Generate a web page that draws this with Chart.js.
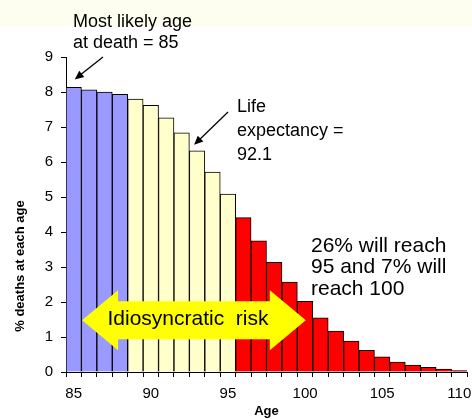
<!DOCTYPE html>
<html>
<head>
<meta charset="utf-8">
<script src="https://cdn.jsdelivr.net/npm/chart.js@4.4.1/dist/chart.umd.min.js"></script>
<style>
  html, body { margin: 0; padding: 0; background: #fff; }
  #wrap { width: 472px; height: 419px; position: relative; }
</style>
</head>
<body>
<div id="wrap"><canvas id="deathChart" width="472" height="419"></canvas></div>
<script>
// ages 85..110 and % of deaths at each age
const ages = [85, 86, 87, 88, 89, 90, 91, 92, 93, 94, 95, 96, 97,
              98, 99, 100, 101, 102, 103, 104, 105, 106, 107, 108, 109, 110];
const deaths = [8.13, 8.06, 8.00, 7.93, 7.80, 7.62, 7.26, 6.83, 6.32, 5.71, 5.08, 4.41, 3.75,
                3.13, 2.57, 2.02, 1.55, 1.17, 0.88, 0.62, 0.43, 0.28, 0.20, 0.13, 0.08, 0.04];
const ageTicks = [85, 90, 95, 100, 105, 110];

const FONT = "'Liberation Sans', Arial, sans-serif";

function barColor(age) {
    if (age <= 88) return '#9999FF';
    if (age <= 95) return '#FFFFCC';
    return '#FF0000';
}

function arrowHead(ctx, x0, y0, x1, y1, len, half) {
    const a = Math.atan2(y1 - y0, x1 - x0);
    ctx.beginPath();
    ctx.moveTo(x1, y1);
    ctx.lineTo(x1 - len * Math.cos(a) + half * Math.sin(a), y1 - len * Math.sin(a) - half * Math.cos(a));
    ctx.lineTo(x1 - len * Math.cos(a) - half * Math.sin(a), y1 - len * Math.sin(a) + half * Math.cos(a));
    ctx.closePath();
    ctx.fill();
}

function blackArrow(ctx, x0, y0, x1, y1) {
    ctx.save();
    ctx.strokeStyle = '#000';
    ctx.fillStyle = '#000';
    ctx.lineWidth = 1.3;
    const a = Math.atan2(y1 - y0, x1 - x0);
    ctx.beginPath();
    ctx.moveTo(x0, y0);
    ctx.lineTo(x1 - 7 * Math.cos(a), y1 - 7 * Math.sin(a));
    ctx.stroke();
    arrowHead(ctx, x0, y0, x1, y1, 9, 4);
    ctx.restore();
}

const background = {
    id: 'background',
    beforeDraw(chart) {
        const ctx = chart.ctx;
        ctx.save();
        ctx.fillStyle = '#fff';
        ctx.fillRect(0, 0, chart.width, chart.height);
        ctx.fillStyle = '#FEFEF0';
        ctx.fillRect(0, 0, chart.width, 27);
        ctx.restore();
    }
};

const notes = {
    id: 'notes',
    afterDraw(chart) {
        const ctx = chart.ctx;
        const x = chart.scales.x, y = chart.scales.y;
        const px = age => x.getPixelForValue(age - 85);

        // yellow double arrow
        const xl = px(85.54), xr = px(100.05), yc = y.getPixelForValue(1.48);
        const head = 36, hh = 30, sh = 19;
        ctx.save();
        ctx.fillStyle = '#FFFF00';
        ctx.beginPath();
        ctx.moveTo(xl, yc);
        ctx.lineTo(xl + head, yc - hh);
        ctx.lineTo(xl + head, yc - sh);
        ctx.lineTo(xr - head, yc - sh);
        ctx.lineTo(xr - head, yc - hh);
        ctx.lineTo(xr, yc);
        ctx.lineTo(xr - head, yc + hh);
        ctx.lineTo(xr - head, yc + sh);
        ctx.lineTo(xl + head, yc + sh);
        ctx.lineTo(xl + head, yc + hh);
        ctx.closePath();
        ctx.fill();

        ctx.fillStyle = '#000';
        ctx.textBaseline = 'alphabetic';
        ctx.textAlign = 'center';
        ctx.font = '21px ' + FONT;
        ctx.fillText('Idiosyncratic  risk', 188, 325);

        ctx.textAlign = 'left';
        ctx.font = '18px ' + FONT;
        ctx.fillText('Most likely age', 73, 27);
        ctx.fillText('at death = 85', 73, 48);
        ctx.fillText('Life', 237, 112);
        ctx.fillText('expectancy =', 237, 136);
        ctx.fillText('92.1', 237, 160);
        ctx.font = '21px ' + FONT;
        ctx.fillText('26% will reach', 311, 252);
        ctx.fillText('95 and 7% will', 311, 273);
        ctx.fillText('reach 100', 311, 295);

        // pointer arrows
        blackArrow(ctx, 103, 57, px(85) + 1, y.getPixelForValue(deaths[0]) - 8);
        blackArrow(ctx, 228, 112, px(93) - 3, y.getPixelForValue(deaths[8]) - 6);

        // axis titles
        ctx.font = 'bold 13px ' + FONT;
        ctx.textAlign = 'center';
        ctx.textBaseline = 'middle';
        ctx.fillText('Age', (chart.chartArea.left + chart.chartArea.right) / 2, 411);
        ctx.translate(20, 266);
        ctx.rotate(-Math.PI / 2);
        ctx.fillText('% deaths at each age', 0, 0);
        ctx.restore();
    }
};

new Chart(document.getElementById('deathChart'), {
    type: 'bar',
    data: {
        labels: ages,
        datasets: [{
            data: deaths,
            backgroundColor: ages.map(barColor),
            borderColor: '#000',
            borderWidth: 1,
            barPercentage: 1,
            categoryPercentage: 1
        }]
    },
    options: {
        responsive: false,
        animation: false,
        layout: { padding: { top: 57, right: 5, left: 0, bottom: 0 } },
        plugins: {
            legend: { display: false },
            tooltip: { enabled: false }
        },
        scales: {
            x: {
                afterFit(scale) {
                    scale.height = 47;
                    scale.paddingLeft = 0;
                    scale.paddingRight = 0;
                },
                border: { color: '#000', width: 1 },
                grid: { display: true, drawOnChartArea: false, drawTicks: true, tickLength: 5, color: '#000', offset: true },
                ticks: {
                    autoSkip: false,
                    maxRotation: 0,
                    padding: 8,
                    color: '#000',
                    font: { family: FONT, size: 15 },
                    callback(value) {
                        const age = ages[value];
                        return ageTicks.includes(age) ? String(age) : '';
                    }
                }
            },
            y: {
                min: 0,
                max: 9,
                afterFit(scale) {
                    scale.width = 66;
                    scale.paddingTop = 0;
                    scale.paddingBottom = 0;
                },
                border: { color: '#000', width: 1 },
                grid: { display: true, drawOnChartArea: false, drawTicks: true, tickLength: 5, color: '#000' },
                ticks: {
                    stepSize: 1,
                    padding: 8,
                    color: '#000',
                    font: { family: FONT, size: 15 }
                }
            }
        }
    },
    plugins: [background, notes]
});
</script>
</body>
</html>
